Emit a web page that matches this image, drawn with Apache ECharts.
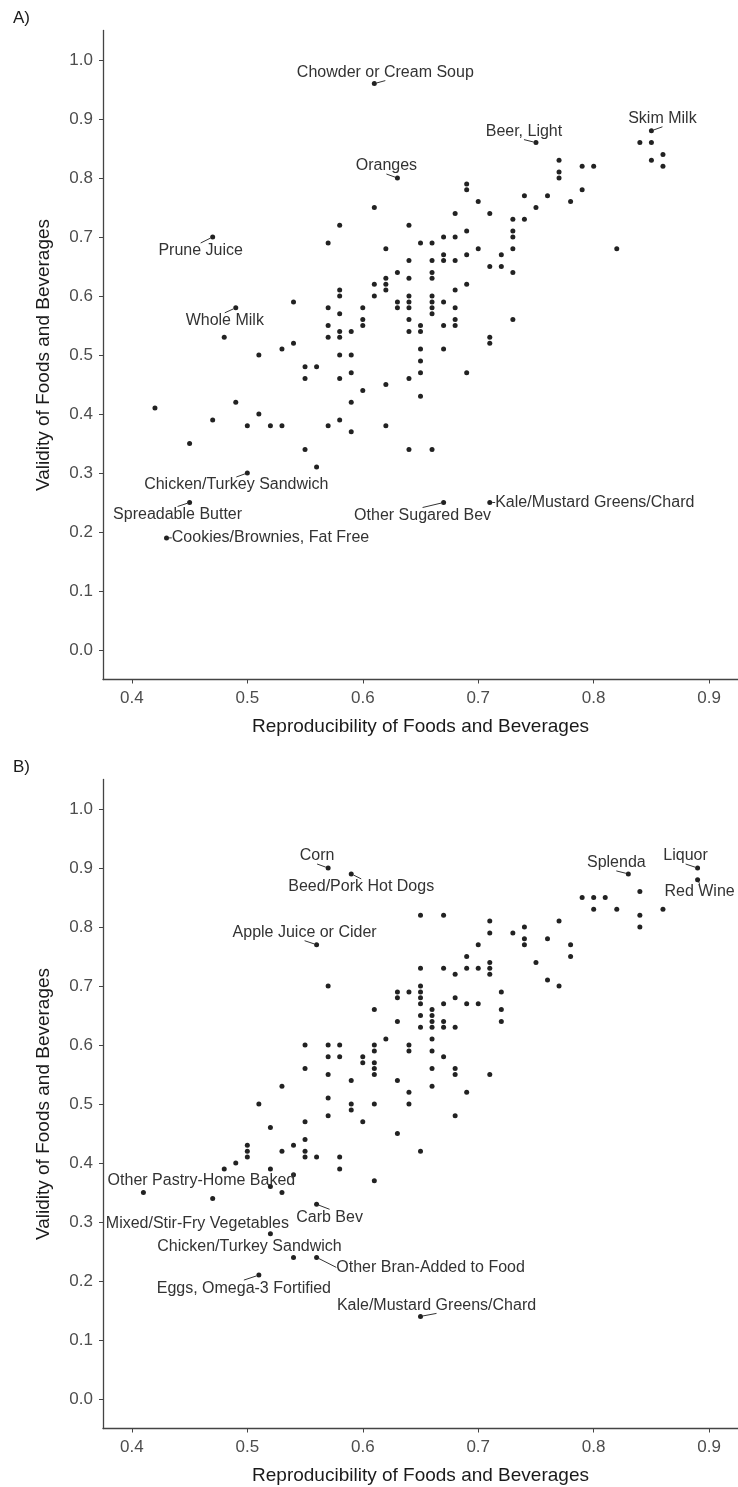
<!DOCTYPE html>
<html>
<head>
<meta charset="utf-8">
<script src="https://cdn.jsdelivr.net/npm/echarts@6/dist/echarts.min.js"></script>
<style>
  html, body { margin: 0; padding: 0; background: #fff; }
  #chart { width: 738px; height: 1487px; }
</style>
</head>
<body>
<div id="chart"></div>
<script>
// tick labels
var xTicks = [0.4, 0.5, 0.6, 0.7, 0.8, 0.9];
var yTicks = [0.0, 0.1, 0.2, 0.3, 0.4, 0.5, 0.6, 0.7, 0.8, 0.9, 1.0];

// panel A: reproducibility values and the validity values found at each
var aRepro = [0.42, 0.45, 0.47, 0.48, 0.49, 0.50, 0.51, 0.52, 0.53, 0.54, 0.55, 0.56,
  0.57, 0.58, 0.59, 0.60, 0.61, 0.62, 0.63, 0.64, 0.65, 0.66, 0.67, 0.68, 0.69, 0.70,
  0.71, 0.72, 0.73, 0.74, 0.75, 0.76, 0.77, 0.78, 0.79, 0.80, 0.82, 0.84, 0.85, 0.86];
var aValid = [
  [0.41], [0.35], [0.39], [0.53], [0.42], [0.38], [0.50, 0.40], [0.38], [0.51, 0.38],
  [0.59, 0.52], [0.48, 0.46, 0.34], [0.48, 0.31],
  [0.69, 0.58, 0.55, 0.53, 0.38],
  [0.72, 0.61, 0.60, 0.57, 0.54, 0.53, 0.50, 0.46, 0.39],
  [0.54, 0.50, 0.47, 0.42, 0.37],
  [0.58, 0.56, 0.55, 0.44],
  [0.75, 0.62, 0.60],
  [0.68, 0.63, 0.62, 0.61, 0.45, 0.38],
  [0.64, 0.59, 0.58],
  [0.72, 0.66, 0.63, 0.60, 0.59, 0.58, 0.56, 0.54, 0.46, 0.34],
  [0.69, 0.55, 0.54, 0.51, 0.49, 0.47, 0.43],
  [0.69, 0.66, 0.64, 0.63, 0.60, 0.59, 0.58, 0.57, 0.34],
  [0.70, 0.67, 0.66, 0.59, 0.55, 0.51],
  [0.74, 0.70, 0.66, 0.61, 0.58, 0.56, 0.55],
  [0.79, 0.78, 0.71, 0.67, 0.62, 0.47],
  [0.76, 0.68],
  [0.74, 0.65, 0.53, 0.52],
  [0.67, 0.65],
  [0.73, 0.71, 0.70, 0.68, 0.64, 0.56],
  [0.77, 0.73], [0.75], [0.77], [0.83, 0.81, 0.80], [0.76], [0.82, 0.78], [0.82],
  [0.68], [0.86], [0.86, 0.83], [0.84, 0.82]
];
var aNames = ['Chowder or Cream Soup', 'Oranges', 'Prune Juice', 'Whole Milk',
  'Chicken/Turkey Sandwich', 'Spreadable Butter', 'Cookies/Brownies, Fat Free',
  'Other Sugared Bev', 'Kale/Mustard Greens/Chard', 'Beer, Light', 'Skim Milk'];
var aNamedRepro = [0.61, 0.63, 0.47, 0.49, 0.50, 0.45, 0.43, 0.67, 0.71, 0.75, 0.85];
var aNamedValid = [0.96, 0.80, 0.70, 0.58, 0.30, 0.25, 0.19, 0.25, 0.25, 0.86, 0.88];

// panel B
var bRepro = [0.47, 0.48, 0.49, 0.50, 0.51, 0.52, 0.53, 0.54, 0.55, 0.56, 0.57, 0.58,
  0.59, 0.60, 0.61, 0.62, 0.63, 0.64, 0.65, 0.66, 0.67, 0.68, 0.69, 0.70, 0.71, 0.72,
  0.73, 0.74, 0.75, 0.76, 0.77, 0.78, 0.79, 0.80, 0.81, 0.82, 0.84, 0.86];
var bValid = [
  [0.34], [0.39], [0.40], [0.43, 0.42, 0.41], [0.50], [0.46, 0.39, 0.36],
  [0.53, 0.42, 0.35], [0.43, 0.38],
  [0.60, 0.56, 0.47, 0.44, 0.42, 0.41],
  [0.41],
  [0.70, 0.60, 0.58, 0.55, 0.51, 0.48],
  [0.60, 0.58, 0.41, 0.39],
  [0.54, 0.50, 0.49],
  [0.58, 0.57, 0.47],
  [0.66, 0.60, 0.59, 0.57, 0.56, 0.55, 0.50, 0.37],
  [0.61],
  [0.69, 0.68, 0.64, 0.54, 0.45],
  [0.69, 0.60, 0.59, 0.52, 0.50],
  [0.82, 0.73, 0.70, 0.69, 0.68, 0.67, 0.65, 0.63, 0.42],
  [0.66, 0.65, 0.64, 0.63, 0.61, 0.59, 0.56, 0.53],
  [0.82, 0.73, 0.67, 0.64, 0.63, 0.58],
  [0.72, 0.68, 0.63, 0.56, 0.55, 0.48],
  [0.75, 0.73, 0.67, 0.52],
  [0.77, 0.73, 0.67],
  [0.81, 0.79, 0.74, 0.73, 0.72, 0.55],
  [0.69, 0.66, 0.64],
  [0.79], [0.80, 0.78, 0.77], [0.74], [0.78, 0.71], [0.81, 0.70], [0.77, 0.75],
  [0.85], [0.85, 0.83], [0.85], [0.83], [0.86, 0.82, 0.80], [0.83]
];
var bNames = ['Corn', 'Beed/Pork Hot Dogs', 'Apple Juice or Cider', 'Splenda', 'Liquor',
  'Red Wine', 'Other Pastry-Home Baked', 'Mixed/Stir-Fry Vegetables', 'Carb Bev',
  'Chicken/Turkey Sandwich', 'Other Bran-Added to Food', 'Eggs, Omega-3 Fortified',
  'Kale/Mustard Greens/Chard'];
var bNamedRepro = [0.57, 0.59, 0.56, 0.83, 0.89, 0.89, 0.41, 0.52, 0.56, 0.54, 0.56, 0.51, 0.65];
var bNamedValid = [0.90, 0.89, 0.77, 0.89, 0.90, 0.88, 0.35, 0.28, 0.33, 0.24, 0.24, 0.21, 0.14];

// where each label sits relative to its point (px), like ggrepel put them;
// third entry false = no leader line (it would run across the text)
var aLabelShift = [[11, -11], [-11, -12], [-12, 14], [-11, 13], [-11, 12], [-12, 12],
  [104, 0], [-21, 13], [105, 0], [-12, -11], [11, -12]];
var bLabelShift = [[-11, -12], [10, 13], [-12, -12], [-12, -11], [-12, -12], [2, 12],
  [58, -12, false], [-73, -10, false], [13, 13], [-44, -11, false], [114, 10], [-15, 13], [16, -11]];

var font = "'Liberation Sans', Arial, Helvetica, sans-serif";
var ink = '#222';

function cloud(xs, ys) {
  var out = [];
  xs.forEach(function (x, i) {
    ys[i].forEach(function (y) { out.push([x, y]); });
  });
  return out;
}
function named(names, xs, ys, shift) {
  return names.map(function (n, i) {
    return { name: n, value: [xs[i], ys[i]], labelLine: { show: shift[i][2] !== false } };
  });
}

function xAxisFor(gi) {
  return {
    gridIndex: gi, type: 'value', min: 0.375, max: 0.925,
    name: 'Reproducibility of Foods and Beverages', nameLocation: 'middle', nameGap: 38,
    nameTextStyle: { fontFamily: font, fontSize: 19, color: '#1a1a1a' },
    axisLine: { show: true, onZero: false, lineStyle: { color: '#444', width: 1.3 } },
    axisTick: { show: true, length: 4, customValues: xTicks, lineStyle: { color: '#444' } },
    axisLabel: { customValues: xTicks, margin: 10, fontFamily: font, fontSize: 17, color: '#4d4d4d',
      formatter: function (v) { return v.toFixed(1); } },
    splitLine: { show: false }
  };
}
function yAxisFor(gi) {
  return {
    gridIndex: gi, type: 'value', min: -0.05, max: 1.05,
    name: 'Validity of Foods and Beverages', nameLocation: 'middle', nameGap: 50,
    nameTextStyle: { fontFamily: font, fontSize: 19, color: '#1a1a1a' },
    axisLine: { show: true, onZero: false, lineStyle: { color: '#444', width: 1.3 } },
    axisTick: { show: true, length: 4, customValues: yTicks, lineStyle: { color: '#444' } },
    axisLabel: { customValues: yTicks, margin: 10, fontFamily: font, fontSize: 17, color: '#4d4d4d',
      formatter: function (v) { return v.toFixed(1); } },
    splitLine: { show: false }
  };
}
function labelledSeries(gi, names, xs, ys, shift) {
  return {
    type: 'scatter', xAxisIndex: gi, yAxisIndex: gi,
    symbolSize: 5, itemStyle: { color: ink, opacity: 1 },
    data: named(names, xs, ys, shift),
    label: { show: true, position: 'inside', formatter: '{b}',
      fontFamily: font, fontSize: 16, color: '#333' },
    labelLayout: function (p) {
      return { dx: shift[p.dataIndex][0], dy: shift[p.dataIndex][1] };
    },
    labelLine: { show: true, length2: 0, lineStyle: { color: '#333', width: 1 } },
    emphasis: { disabled: true }, silent: true, z: 3
  };
}

var chart = echarts.init(document.getElementById('chart'));
chart.setOption({
  backgroundColor: '#fff',
  animation: false,
  grid: [
    { left: 103, top: 30.5, width: 638, height: 649 },
    { left: 103, top: 779.5, width: 638, height: 649 }
  ],
  xAxis: [xAxisFor(0), xAxisFor(1)],
  yAxis: [yAxisFor(0), yAxisFor(1)],
  graphic: [
    { type: 'text', left: 13, top: 10, style: { text: 'A)', font: '17px ' + font, fill: '#1a1a1a' } },
    { type: 'text', left: 13, top: 759, style: { text: 'B)', font: '17px ' + font, fill: '#1a1a1a' } }
  ],
  series: [
    { type: 'scatter', xAxisIndex: 0, yAxisIndex: 0, symbolSize: 5,
      itemStyle: { color: ink, opacity: 1 }, data: cloud(aRepro, aValid), silent: true },
    labelledSeries(0, aNames, aNamedRepro, aNamedValid, aLabelShift),
    { type: 'scatter', xAxisIndex: 1, yAxisIndex: 1, symbolSize: 5,
      itemStyle: { color: ink, opacity: 1 }, data: cloud(bRepro, bValid), silent: true },
    labelledSeries(1, bNames, bNamedRepro, bNamedValid, bLabelShift)
  ]
});

window.onresize = function () { chart.resize(); };
</script>
</body>
</html>
